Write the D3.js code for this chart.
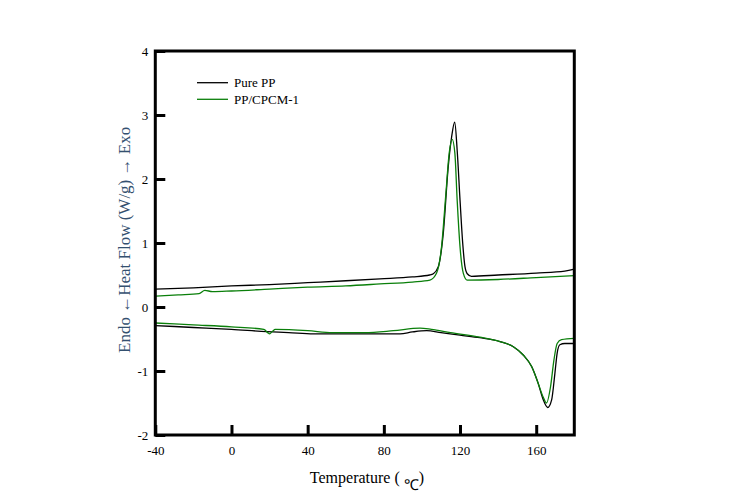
<!DOCTYPE html>
<html>
<head>
<meta charset="utf-8">
<script src="https://cdn.jsdelivr.net/npm/d3@7"></script>
<style>
  body { margin: 0; background: #fff; }
  svg text { font-family: "Liberation Serif", "Times New Roman", serif; }
</style>
</head>
<body>
<svg id="chart" width="753" height="504"></svg>
<script>
// DSC curves: [temperature (C), heat flow (W/g)]
const pureCooling = [[-40,0.28],[-20,0.30],[0,0.33],[20,0.35],[40,0.38],[60,0.41],[78,0.44],[95,0.47],[104,0.50],[106,0.52],[108.6,0.63],[111.2,1.15],[113.8,2.19],[115.6,2.66],[117.2,2.89],[118.5,2.45],[120,1.67],[121.4,1.0],[122.6,0.63],[123.8,0.52],[126,0.48],[140,0.50],[160,0.53],[175,0.56],[180,0.59]];
const cpcmCooling = [[-40,0.17],[-28,0.19],[-17,0.21],[-14,0.26],[-10,0.24],[0,0.25],[20,0.28],[40,0.31],[60,0.33],[78,0.36],[95,0.39],[104.2,0.42],[107.7,0.53],[110.3,0.94],[112.6,1.78],[114.3,2.40],[115.9,2.62],[117.3,2.40],[118.5,1.67],[120,0.94],[121.7,0.53],[123.8,0.42],[140,0.43],[160,0.46],[180,0.49]];
const pureHeating = [[-40,-0.29],[-20,-0.32],[0,-0.35],[18.5,-0.385],[30,-0.40],[43,-0.42],[60,-0.42],[88.5,-0.42],[95,-0.39],[102.5,-0.37],[110,-0.40],[120,-0.44],[130.4,-0.48],[141,-0.54],[148,-0.62],[153.2,-0.75],[157.6,-0.93],[161,-1.19],[163.7,-1.45],[166,-1.57],[168.1,-1.45],[169.8,-1.04],[171,-0.72],[172.4,-0.59],[175,-0.57],[180,-0.57]];
const cpcmHeating = [[-40,-0.25],[-20,-0.28],[0,-0.31],[17,-0.35],[19,-0.40],[20,-0.42],[21.5,-0.38],[23,-0.35],[40,-0.37],[53,-0.40],[70,-0.40],[85,-0.37],[99,-0.33],[105,-0.35],[115,-0.40],[130.4,-0.47],[141,-0.54],[148,-0.62],[153.2,-0.75],[157.6,-0.93],[161,-1.19],[163.7,-1.41],[165.4,-1.50],[167.5,-1.25],[169.3,-0.83],[171,-0.57],[173.3,-0.51],[180,-0.49]];

const xTicks = [-40, 0, 40, 80, 120, 160];
const yTicks = [-2, -1, 0, 1, 2, 3, 4];
const seriesNames = ["Pure PP", "PP/CPCM-1"];
const seriesColors = ["#000000", "#0a7f0a"];

const margin = {top: 51, left: 155.3};
const width = 419;
const height = 384;

const svg = d3.select("#chart");
const chart = svg.append("g")
  .attr("transform", `translate(${margin.left}, ${margin.top})`);

const x = d3.scaleLinear().domain([-40, 180]).range([0, width]);
const y = d3.scaleLinear().domain([-2, 4]).range([height, 0]);

const line = d3.line()
  .curve(d3.curveMonotoneX)
  .x(d => x(d[0]))
  .y(d => y(d[1]));

const curves = [
  {data: pureCooling, color: seriesColors[0]},
  {data: pureHeating, color: seriesColors[0]},
  {data: cpcmCooling, color: seriesColors[1]},
  {data: cpcmHeating, color: seriesColors[1]}
];

chart.selectAll(".curve")
  .data(curves)
  .enter()
  .append("path")
  .attr("class", "curve")
  .attr("d", d => line(d.data))
  .attr("fill", "none")
  .attr("stroke", d => d.color)
  .attr("stroke-width", 1.3);

// axes: inward ticks, frame drawn separately
const xAxis = chart.append("g")
  .attr("transform", `translate(0, ${height})`)
  .call(d3.axisBottom(x).tickValues(xTicks).tickSize(-10).tickPadding(11).tickFormat(d => String(d)));

const yAxis = chart.append("g")
  .call(d3.axisLeft(y).tickValues(yTicks).tickSize(-10).tickPadding(7).tickFormat(d => String(d)));

[xAxis, yAxis].forEach(a => {
  a.select(".domain").remove();
  a.selectAll(".tick line").attr("stroke", "#000").attr("stroke-width", 3);
  a.selectAll(".tick text")
    .attr("fill", "#000")
    .style("font-size", "13px")
    .style("font-family", "'Liberation Serif', serif");
});

chart.append("rect")
  .attr("width", width)
  .attr("height", height)
  .attr("fill", "none")
  .attr("stroke", "#000")
  .attr("stroke-width", 3);

// axis titles
const xTitle = svg.append("text")
  .attr("x", 367)
  .attr("y", 483)
  .attr("text-anchor", "middle")
  .style("font-size", "16px")
  .attr("fill", "#000");
xTitle.append("tspan").text("Temperature ( ");
xTitle.append("tspan").attr("dy", 7).style("font-size", "15px").text("\u2103");
xTitle.append("tspan").attr("dy", -7).text(")");

svg.append("text")
  .attr("transform", "rotate(-90)")
  .attr("x", -353)
  .attr("y", 130)
  .attr("text-anchor", "start")
  .style("font-size", "17px")
  .attr("fill", "#34506f")
  .text("Endo \u2190Heat Flow (W/g) \u2192 Exo");

// legend
const legend = svg.append("g");
seriesNames.forEach((name, i) => {
  const ly = 82.7 + i * 16.6;
  legend.append("line")
    .attr("x1", 197).attr("x2", 228)
    .attr("y1", ly).attr("y2", ly)
    .attr("stroke", seriesColors[i])
    .attr("stroke-width", 1.3);
  legend.append("text")
    .attr("x", 234)
    .attr("y", ly + 4.5)
    .style("font-size", "13px")
    .attr("fill", "#000")
    .text(name);
});
</script>
</body>
</html>
